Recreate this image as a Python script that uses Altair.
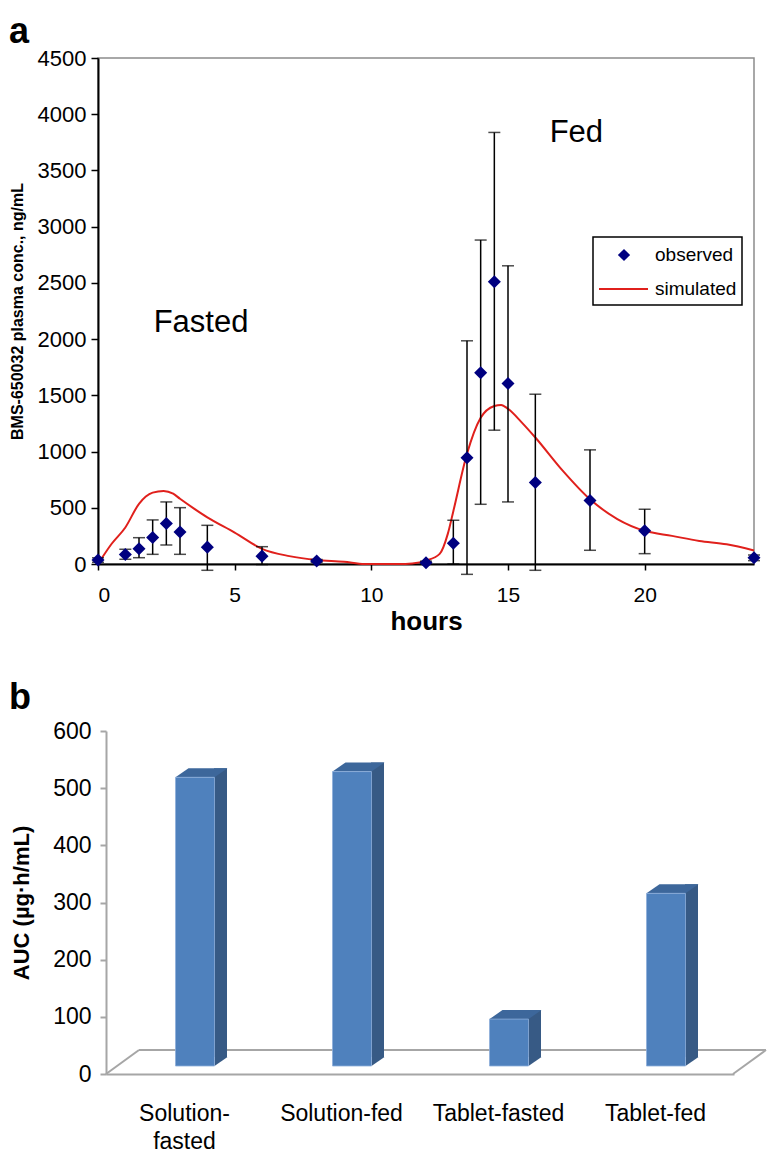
import altair as alt
import pandas as pd

# ---------------- data ----------------
obs_hours = [0, 1, 1.5, 2, 2.5, 3, 4, 6, 8, 12, 13, 13.5, 14, 14.5, 15, 16, 18, 20, 24]
obs_conc = [35, 85, 135, 235, 360, 285, 150, 70, 27, 12, 185, 945, 1700, 2510, 1605, 725, 565, 295, 55]
obs_low = [15, 42, 56, 86, 169, 86, -56, -5, 15, 0, 0, -92, 531, 1190, 552, -56, 122, 92, 30]
obs_high = [55, 131, 234, 392, 552, 501, 344, 154, 40, 25, 389, 1985, 2881, 3838, 2652, 1510, 1015, 487, 80]

sim_hours = [0, 0.5, 1, 1.5, 1.75, 2, 2.4, 2.75, 3, 3.5, 4, 5, 6, 7, 8, 9, 9.75, 11, 11.5,
             12, 12.5, 12.8, 13, 13.5, 14, 14.5, 14.75, 15, 15.5, 16, 17, 18, 19, 20, 21, 22, 23, 24]
sim_conc = [0, 180, 325, 535, 600, 635, 650, 625, 580, 495, 415, 280, 135, 70, 35, 20, 0, 0, 5,
            30, 90, 270, 470, 980, 1300, 1405, 1415, 1380, 1260, 1125, 830, 575, 400, 295, 250, 205, 175, 120]

notes_text = ["Fasted", "Fed"]
notes_hours = [3.77, 17.5]
notes_conc = [2140, 3830]

groups = ["Solution-fasted", "Solution-fed", "Tablet-fasted", "Tablet-fed"]
auc = [505, 515, 82, 302]

x_ticks_a = [0, 5, 10, 15, 20]
y_ticks_a = [0, 500, 1000, 1500, 2000, 2500, 3000, 3500, 4000, 4500]
y_ticks_b = [0, 100, 200, 300, 400, 500, 600]

FONT = "Liberation Sans"
NAVY = "#000080"
RED = "#e0201c"
GRAY = "#a6a6a6"

obs = pd.DataFrame({"hours": obs_hours, "conc": obs_conc, "low": obs_low, "high": obs_high})
sim = pd.DataFrame({"hours": sim_hours, "conc": sim_conc})
notes = pd.DataFrame({"hours": notes_hours, "conc": notes_conc, "label": notes_text})
bars = pd.DataFrame({"group": groups, "auc": auc})
one = pd.DataFrame({"k": [0]})

# ---------------- panel a ----------------
x_axis_a = alt.Axis(values=x_ticks_a, title="hours", grid=False, domainColor="black", domainWidth=2,
                    tickColor="black", tickWidth=1.5, tickSize=6, labelFontSize=21, labelColor="black",
                    labelPadding=14, titleFontSize=26, titleFontWeight="bold", titleColor="black",
                    titlePadding=3, labelFont=FONT, titleFont=FONT)
y_axis_a = alt.Axis(values=y_ticks_a, format="d", title="BMS-650032 plasma conc., ng/mL", grid=False,
                    domainColor="black", domainWidth=2, tickColor="black", tickWidth=1.5, tickSize=7,
                    labelFontSize=22, labelColor="black", labelPadding=5, titleFontSize=16,
                    titleFontWeight="bold", titleColor="black", titlePadding=12,
                    labelFont=FONT, titleFont=FONT)
xs_a = alt.Scale(domain=[0, 24], nice=False)
ys_a = alt.Scale(domain=[0, 4500], nice=False)


def xa(field):
    return alt.X(f"{field}:Q", scale=xs_a, axis=x_axis_a)


def ya(field):
    return alt.Y(f"{field}:Q", scale=ys_a, axis=y_axis_a)


line = alt.Chart(sim).mark_line(color=RED, strokeWidth=2, interpolate="monotone").encode(
    x=xa("hours"), y=ya("conc"))
err = alt.Chart(obs).mark_rule(color="black", strokeWidth=1.5).encode(
    x=xa("hours"), y=ya("low"), y2="high:Q")
cap_lo = alt.Chart(obs).mark_tick(color="black", orient="horizontal", size=12, thickness=1.5).encode(
    x=xa("hours"), y=ya("low"))
cap_hi = alt.Chart(obs).mark_tick(color="black", orient="horizontal", size=12, thickness=1.5).encode(
    x=xa("hours"), y=ya("high"))
pts = alt.Chart(obs).mark_point(shape="diamond", filled=True, color=NAVY, size=170, opacity=1).encode(
    x=xa("hours"), y=ya("conc"))
note_txt = alt.Chart(notes).mark_text(fontSize=31, font=FONT, color="black").encode(
    x=xa("hours"), y=ya("conc"), text="label:N")

leg_box = alt.Chart(one).mark_rect(fill="white", stroke="black", strokeWidth=1.5).encode(
    x=alt.value(495), x2=alt.value(644), y=alt.value(179), y2=alt.value(247))
leg_pt = alt.Chart(one).mark_point(shape="diamond", filled=True, color=NAVY, size=150, opacity=1).encode(
    x=alt.value(526), y=alt.value(197))
leg_line = alt.Chart(one).mark_rule(color=RED, strokeWidth=2).encode(
    x=alt.value(501), x2=alt.value(550), y=alt.value(231))
leg_t1 = alt.Chart(one).mark_text(align="left", baseline="middle", fontSize=19, font=FONT).encode(
    x=alt.value(557), y=alt.value(197), text=alt.value("observed"))
leg_t2 = alt.Chart(one).mark_text(align="left", baseline="middle", fontSize=19, font=FONT).encode(
    x=alt.value(557), y=alt.value(231), text=alt.value("simulated"))
tag_a = alt.Chart(one).mark_text(align="left", baseline="alphabetic", fontSize=36, fontWeight="bold",
                                 font=FONT).encode(x=alt.value(-89), y=alt.value(-15), text=alt.value("a"))

panel_a = alt.layer(line, err, cap_lo, cap_hi, pts, note_txt, leg_box, leg_pt, leg_line, leg_t1, leg_t2,
                    tag_a).properties(width=656, height=506,
                                      view=alt.ViewBackground(stroke="#8c8c8c", strokeWidth=1.5))

# ---------------- panel b ----------------
x_axis_b = alt.Axis(title=None, labelAngle=0, ticks=False, domainColor=GRAY, domainWidth=2,
                    labelFontSize=23, labelColor="black", labelPadding=28, labelLineHeight=28,
                    labelFont=FONT,
                    labelExpr="datum.label == 'Solution-fasted' ? ['Solution-', 'fasted'] : datum.label")
y_axis_b = alt.Axis(values=y_ticks_b, format="d", title="AUC (µg·h/mL)", grid=False, offset=-8,
                    domainColor=GRAY, domainWidth=2, tickColor=GRAY, tickWidth=2, tickSize=6,
                    labelFontSize=23, labelColor="black", labelPadding=9, titleFontSize=22,
                    titleFontWeight="bold", titleColor="black", titlePadding=19,
                    labelFont=FONT, titleFont=FONT)
xs_b = alt.Scale(domain=groups, range=[8, 636], paddingInner=0, paddingOuter=0)
ys_b = alt.Scale(domain=[0, 600], nice=False)
xb = alt.X("group:N", sort=groups, scale=xs_b, axis=x_axis_b)


def yb(field):
    return alt.Y(f"{field}:Q", scale=ys_b, axis=y_axis_b)


floor_back = alt.Chart(one).mark_rule(color=GRAY, strokeWidth=2).encode(
    x=alt.value(41), x2=alt.value(668), y=alt.value(319))
floor_l = alt.Chart(one).mark_rule(color=GRAY, strokeWidth=2).encode(
    x=alt.value(8), x2=alt.value(41), y=alt.value(343), y2=alt.value(319))
floor_r = alt.Chart(one).mark_rule(color=GRAY, strokeWidth=2).encode(
    x=alt.value(635), x2=alt.value(668), y=alt.value(343), y2=alt.value(319))

side = alt.Chart(bars).mark_bar(width=13, xOffset=36, yOffset=-17, y2Offset=-17, color="#375a85").encode(
    x=xb, y=yb("auc"), y2=alt.datum(0))
side_foot = alt.Chart(bars).mark_point(shape="M0,0L0,-9L13,-9Z", size=4, filled=True, opacity=1,
                                       strokeWidth=0, color="#375a85", xOffset=30, yOffset=-8).encode(
    x=xb, y=alt.datum(0))
top_face = alt.Chart(bars).mark_point(shape="M0,0L39,0L52,-9L13,-9Z", size=4, filled=True, opacity=1,
                                      strokeWidth=0, color="#3d679b", xOffset=-9, yOffset=-8).encode(
    x=xb, y=yb("auc"))
front = alt.Chart(bars).mark_bar(width=39, xOffset=10.5, yOffset=-8, y2Offset=-8, color="#4f81bd",
                                 stroke="#8eaedb", strokeWidth=0.8).encode(
    x=xb, y=yb("auc"), y2=alt.datum(0))
tag_b = alt.Chart(one).mark_text(align="left", baseline="alphabetic", fontSize=36, fontWeight="bold",
                                 font=FONT).encode(x=alt.value(-89), y=alt.value(-22), text=alt.value("b"))

panel_b = alt.layer(floor_back, floor_l, floor_r, side, side_foot, top_face, front, tag_b).properties(
    width=668, height=343, view=alt.ViewBackground(stroke="transparent", strokeWidth=0))

chart = alt.vconcat(panel_a, panel_b, spacing=45).properties(
    padding={"left": 0, "top": 5, "right": 0, "bottom": 0}
).configure(font=FONT, background="white")

chart.save("out.html", embed_options={"renderer": "svg", "actions": False})
